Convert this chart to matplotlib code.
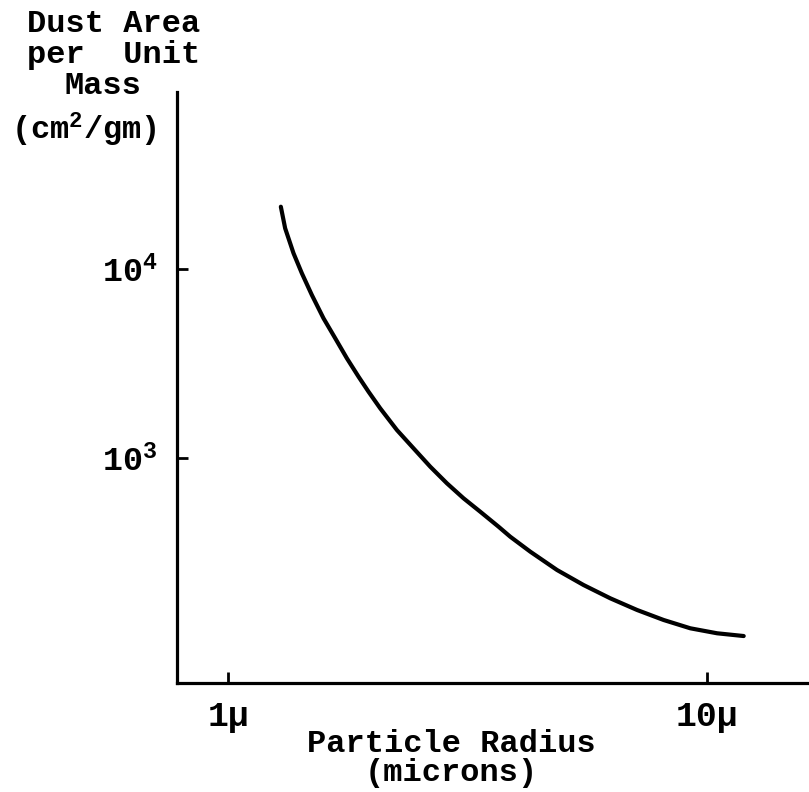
import numpy as np
import matplotlib.pyplot as plt

plt.rcParams['font.family'] = ['Liberation Mono', 'DejaVu Sans Mono']
plt.rcParams['font.weight'] = 'bold'
plt.rcParams['mathtext.fontset'] = 'custom'
plt.rcParams['mathtext.rm'] = 'Liberation Mono:bold'
plt.rcParams['mathtext.it'] = 'Liberation Mono:bold'
plt.rcParams['mathtext.bf'] = 'Liberation Mono:bold'

# particle radius (microns) and dust area per unit mass (cm^2/gm)
radius = [1.288, 1.315, 1.369, 1.425, 1.495, 1.581, 1.673, 1.769, 1.871, 1.963,
          2.076, 2.250, 2.437, 2.641, 2.861, 3.099, 3.358, 3.667, 3.879, 4.271,
          4.857, 5.517, 6.273, 7.134, 8.104, 9.215, 10.48, 11.91]
area = [21360, 16420, 12110, 9489, 7285, 5486, 4298, 3370, 2693, 2243,
        1833, 1406, 1125, 899.5, 734.7, 612.1, 519.8, 433.0, 383.3, 319.4,
        255.5, 212.8, 181.0, 157.0, 139.0, 125.6, 118.2, 114.3]

xticks = [1, 10]
xticklabels = ['1\u03bc', '10\u03bc']
yticks = [1e3, 1e4]
yticklabels = [r'10$^{3}$', r'10$^{4}$']

W, H = 809, 792
fig = plt.figure(figsize=(W / 100, H / 100), dpi=100)
ax = fig.add_axes([177 / W, 1 - 683 / H, (W - 177) / W, (683 - 92) / H])

ax.plot(radius, area, color='black', lw=3, solid_capstyle='round', solid_joinstyle='round')
ax.set_xscale('log')
ax.set_yscale('log')
ax.set_xlim(0.782, 16.3)
ax.set_ylim(64.5, 86400)

ax.spines['top'].set_visible(False)
ax.spines['right'].set_visible(False)
ax.spines['left'].set_linewidth(2.3)
ax.spines['bottom'].set_linewidth(2.3)

ax.set_xticks(xticks)
ax.set_xticklabels(xticklabels)
ax.set_yticks(yticks)
ax.set_yticklabels(yticklabels)
ax.minorticks_off()
ax.tick_params(axis='both', direction='in', length=8, width=2)
ax.tick_params(axis='y', pad=14, labelsize=24)
ax.tick_params(axis='x', pad=12, labelsize=25)

fs = 23
fig.text(114 / W, 1 - 24 / H, 'Dust Area', ha='center', va='center', fontsize=fs)
fig.text(114 / W, 1 - 55 / H, 'per  Unit', ha='center', va='center', fontsize=fs)
fig.text(103 / W, 1 - 86 / H, 'Mass', ha='center', va='center', fontsize=fs)
fig.text(84 / W, 1 - 130 / H, r'(cm$^{2}$/gm)', ha='center', va='center', fontsize=fs)

fig.text(451 / W, 1 - 744 / H, 'Particle Radius', ha='center', va='center', fontsize=fs)
fig.text(451 / W, 1 - 773 / H, '(microns)', ha='center', va='center', fontsize=fs)

fig.savefig('out.png', dpi=100)
